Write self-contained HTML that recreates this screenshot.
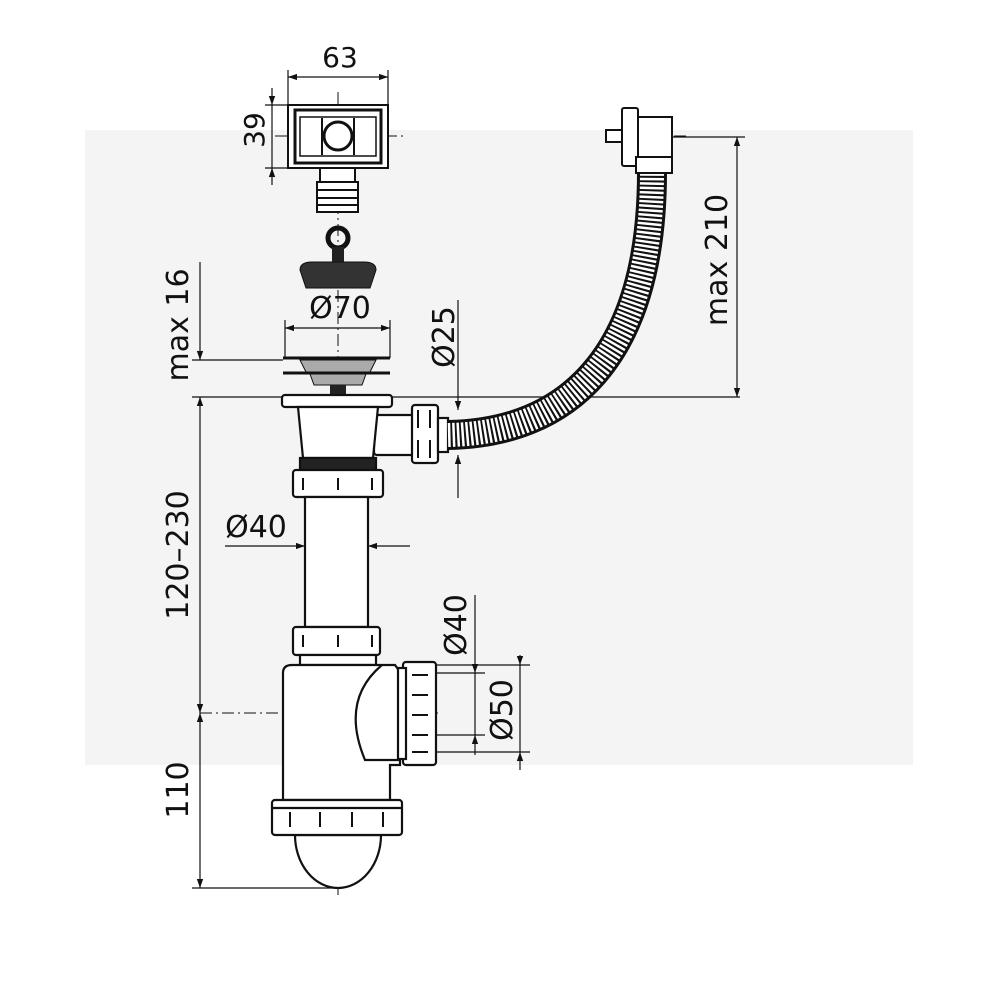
<!DOCTYPE html>
<html><head><meta charset="utf-8"><style>
html,body{margin:0;padding:0;background:#fff;width:1000px;height:1000px;overflow:hidden}
svg{display:block}
text{font-family:"DejaVu Sans","Liberation Sans",sans-serif;fill:#111}
</style></head><body>
<svg width="1000" height="1000" viewBox="0 0 1000 1000" xmlns="http://www.w3.org/2000/svg">
<defs>
<marker id="a" viewBox="0 0 10 10" refX="10" refY="5" markerWidth="9" markerHeight="9" orient="auto-start-reverse" markerUnits="userSpaceOnUse"><path d="M0,1.5 L10,5 L0,8.5 Z" fill="#111"/></marker>
</defs>
<rect x="85" y="130" width="828" height="635" fill="#f4f4f4"/>
<g stroke="#111" fill="none" stroke-width="1.2">
<!-- center lines -->
<line x1="338" y1="92" x2="338" y2="895" stroke-dasharray="12 4 2 4" stroke-width="1"/>
<line x1="275" y1="136" x2="405" y2="136" stroke-dasharray="12 4 2 4" stroke-width="1"/>
<line x1="330" y1="435" x2="440" y2="435" stroke-dasharray="12 4 2 4" stroke-width="1"/>
<line x1="200" y1="713" x2="440" y2="713" stroke-dasharray="12 4 2 4" stroke-width="1"/>
<line x1="630" y1="136" x2="690" y2="136" stroke-dasharray="12 4 2 4" stroke-width="1"/>
<!-- 63 dim -->
<line x1="288" y1="70" x2="288" y2="105"/><line x1="388" y1="70" x2="388" y2="105"/>
<line x1="288" y1="77" x2="388" y2="77" marker-start="url(#a)" marker-end="url(#a)"/>
<!-- 39 dim -->
<line x1="265" y1="105" x2="290" y2="105"/><line x1="265" y1="168" x2="290" y2="168"/>
<line x1="272" y1="88" x2="272" y2="105" marker-end="url(#a)"/>
<line x1="272" y1="185" x2="272" y2="168" marker-end="url(#a)"/>
<line x1="272" y1="105" x2="272" y2="168"/>
<!-- max16 / 120-230 / 110 -->
<line x1="200" y1="262" x2="200" y2="360" marker-end="url(#a)"/>
<line x1="200" y1="397" x2="200" y2="713" marker-start="url(#a)" marker-end="url(#a)"/>
<line x1="200" y1="713" x2="200" y2="888" marker-start="url(#a)" marker-end="url(#a)"/>
<line x1="192" y1="360" x2="283" y2="360"/>
<line x1="192" y1="397" x2="740" y2="397"/>
<line x1="192" y1="888" x2="338" y2="888"/>
<!-- Ø70 -->
<line x1="285" y1="328" x2="390" y2="328" marker-start="url(#a)" marker-end="url(#a)"/>
<line x1="285" y1="320" x2="285" y2="358"/><line x1="390" y1="320" x2="390" y2="358"/>
<!-- Ø25 -->
<line x1="458" y1="300" x2="458" y2="410" marker-end="url(#a)"/>
<line x1="458" y1="498" x2="458" y2="455" marker-end="url(#a)"/>
<!-- max 210 -->
<line x1="737" y1="137" x2="737" y2="397" marker-start="url(#a)" marker-end="url(#a)"/>
<line x1="672" y1="137" x2="745" y2="137"/>
<!-- Ø40 pipe -->
<line x1="225" y1="546" x2="305" y2="546" marker-end="url(#a)"/>
<line x1="410" y1="546" x2="368" y2="546" marker-end="url(#a)"/>
<!-- Ø40 / Ø50 right -->
<line x1="475" y1="595" x2="475" y2="673" marker-end="url(#a)"/>
<line x1="475" y1="673" x2="475" y2="735"/>
<line x1="475" y1="755" x2="475" y2="735" marker-end="url(#a)"/>
<line x1="436" y1="673" x2="485" y2="673"/><line x1="436" y1="735" x2="485" y2="735"/>
<line x1="520" y1="655" x2="520" y2="665" marker-end="url(#a)"/>
<line x1="520" y1="665" x2="520" y2="752"/>
<line x1="520" y1="770" x2="520" y2="752" marker-end="url(#a)"/>
<line x1="436" y1="665" x2="530" y2="665"/><line x1="436" y1="752" x2="530" y2="752"/>
</g>
<!-- Overflow box -->
<g stroke="#111" fill="#fff" stroke-width="2">
<rect x="288" y="105" width="100" height="63"/>
<rect x="295" y="110" width="86" height="53" fill="none" stroke-width="3"/>
<rect x="300" y="117" width="76" height="39" fill="none" stroke-width="1.5"/>
<circle cx="338" cy="136" r="14" fill="none" stroke-width="3"/>
<line x1="322" y1="118" x2="322" y2="155" stroke-width="2"/><line x1="354" y1="118" x2="354" y2="155" stroke-width="2"/>
<rect x="320" y="168" width="35" height="14"/>
<rect x="317" y="182" width="41" height="30"/>
<line x1="317" y1="190" x2="358" y2="190"/><line x1="317" y1="198" x2="358" y2="198"/><line x1="317" y1="205" x2="358" y2="205"/>
</g>
<!-- stopper -->
<circle cx="338" cy="238" r="10" fill="none" stroke="#111" stroke-width="5"/>
<rect x="332" y="247" width="12" height="16" fill="#222"/>
<path d="M300,270 Q300,262 312,262 L364,262 Q376,262 376,270 L370,288 L306,288 Z" fill="#333" stroke="#111"/>
<!-- strainer -->
<g stroke="#111" stroke-width="3">
<line x1="283" y1="358" x2="390" y2="358"/><line x1="283" y1="373" x2="390" y2="373"/>
</g>
<path d="M300,360 L376,360 L370,372 L306,372 Z" fill="#aaa" stroke="#111"/>
<path d="M310,374 L366,374 L362,385 L314,385 Z" fill="#aaa" stroke="#111"/>
<rect x="330" y="385" width="16" height="10" fill="#222"/>
<!-- drain body -->
<g stroke="#111" stroke-width="2.2" fill="#fff">
<rect x="374" y="415" width="40" height="40" rx="3"/>
<rect x="282" y="395" width="110" height="12" rx="3"/>
<path d="M298,407 L378,407 L373,458 L303,458 Z"/>
<rect x="300" y="458" width="76" height="12" fill="#222"/>
<rect x="293" y="470" width="90" height="27" rx="3"/>
<rect x="305" y="497" width="63" height="130"/>
<rect x="293" y="627" width="87" height="28" rx="3"/>
<rect x="300" y="655" width="76" height="10"/>
<rect x="412" y="405" width="26" height="58" rx="3"/>
<rect x="438" y="418" width="10" height="34"/>
</g>
<g stroke="#111" stroke-width="2" fill="none">
<path d="M303,478 v12 M338,478 v12 M372,478 v12 M303,635 v12 M338,635 v12 M372,635 v12"/>
<path d="M418,410 v18 M430,410 v18 M418,440 v18 M430,440 v18"/>
</g>
<!-- hose -->
<path d="M448,435 C565,433 652,360 652,172" fill="none" stroke="#111" stroke-width="30"/>
<path d="M448,435 C565,433 652,360 652,172" fill="none" stroke="#fff" stroke-width="24" stroke-dasharray="2.5 2"/>
<!-- top fitting -->
<g stroke="#111" stroke-width="2" fill="#fff">
<rect x="622" y="108" width="16" height="58" rx="2"/>
<rect x="638" y="117" width="34" height="40"/>
<rect x="636" y="157" width="36" height="16"/>
<rect x="606" y="130" width="16" height="12"/>
</g>
<!-- bottle trap -->
<g stroke="#111" stroke-width="2.2" fill="#fff">
<path d="M283,800 L283,673 Q283,665 292,665 L395,665 L400,672 L400,765 L390,765 L390,800 Z"/>
<path d="M382,665 Q340,700 365,760 L400,760" fill="none"/>
<rect x="403" y="662" width="33" height="103" rx="3"/>
<rect x="398" y="668" width="8" height="91"/>
<path d="M295,835 A43,53 0 0 0 381,835 Z"/>
<rect x="272" y="800" width="130" height="35" rx="3"/>
<line x1="272" y1="808" x2="402" y2="808"/>
</g>
<g stroke="#111" stroke-width="2" fill="none">
<path d="M290,812 v15 M320,812 v15 M352,812 v15 M383,812 v15"/>
<path d="M412,675 h16 M412,695 h16 M412,715 h16 M412,735 h16 M412,752 h16"/>
</g>
<!-- text -->
<text x="340" y="67" font-size="28" text-anchor="middle">63</text>
<text transform="translate(264,130) rotate(-90)" font-size="28" text-anchor="middle">39</text>
<text x="340" y="318" font-size="30" text-anchor="middle">Ø70</text>
<text transform="translate(188,325) rotate(-90)" font-size="30" text-anchor="middle">max 16</text>
<text transform="translate(454,337) rotate(-90)" font-size="30" text-anchor="middle">Ø25</text>
<text transform="translate(727,260) rotate(-90)" font-size="30" text-anchor="middle">max 210</text>
<text x="256" y="537" font-size="30" text-anchor="middle">Ø40</text>
<text transform="translate(188,555) rotate(-90)" font-size="30" text-anchor="middle">120–230</text>
<text transform="translate(466,625) rotate(-90)" font-size="30" text-anchor="middle">Ø40</text>
<text transform="translate(512,710) rotate(-90)" font-size="30" text-anchor="middle">Ø50</text>
<text transform="translate(188,790) rotate(-90)" font-size="30" text-anchor="middle">110</text>
</svg>
</body></html>
